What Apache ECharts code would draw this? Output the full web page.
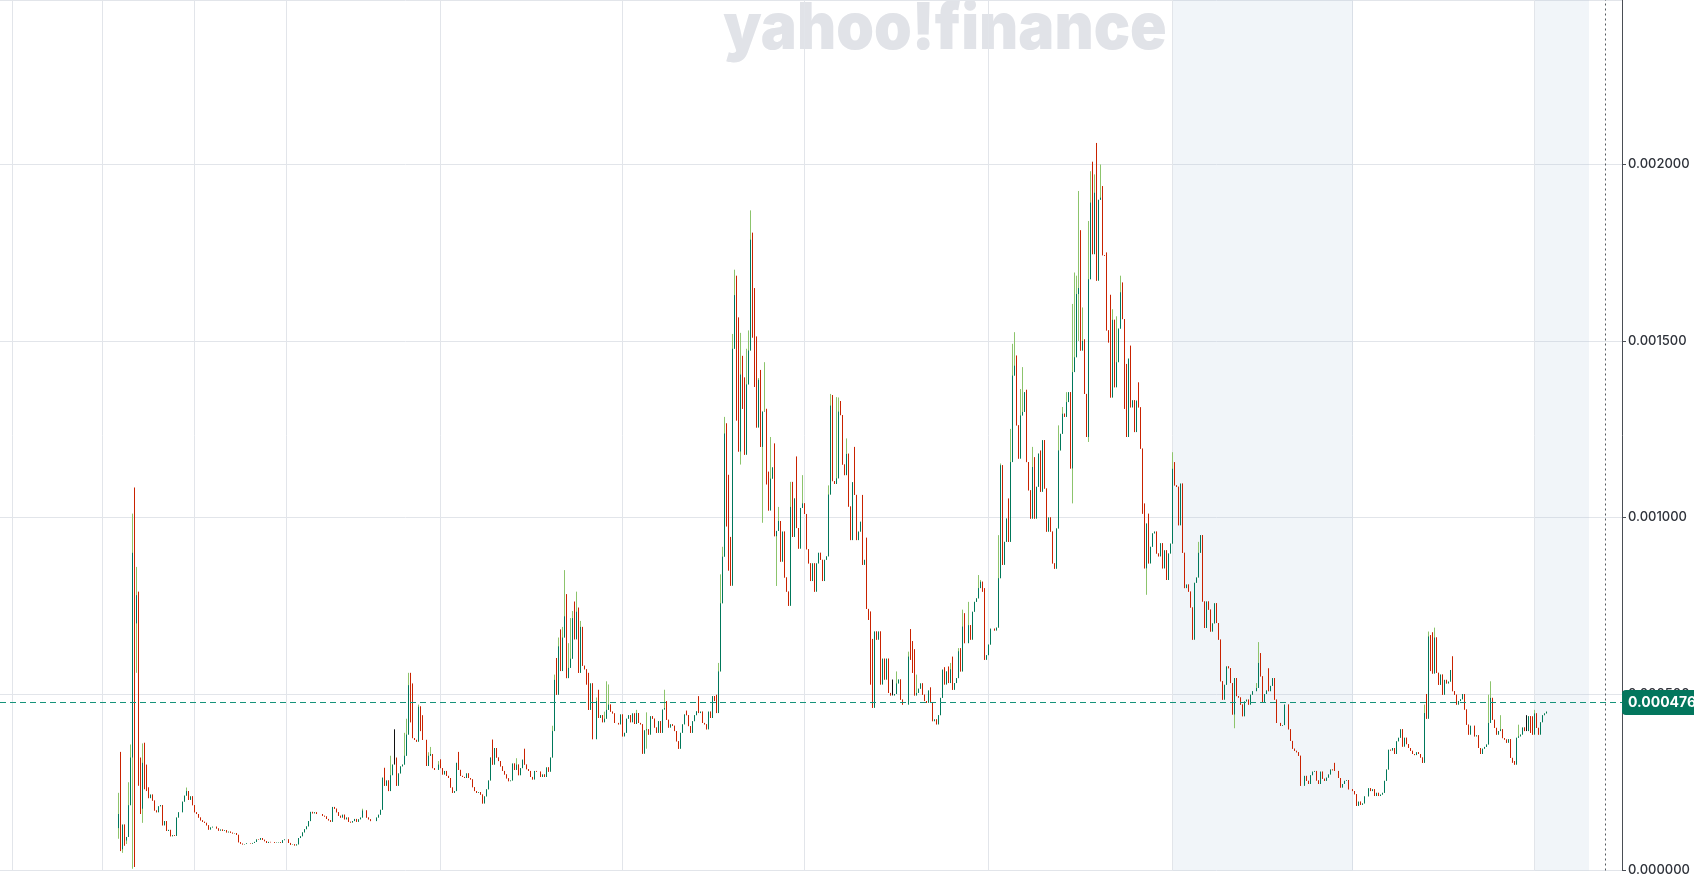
<!DOCTYPE html>
<html>
<head>
<meta charset="utf-8">
<script src="https://cdn.jsdelivr.net/npm/echarts@6/dist/echarts.min.js"></script>
<style>
html,body{margin:0;padding:0;background:#ffffff;}
#chart{width:1694px;height:877px;}
</style>
</head>
<body>
<div id="chart"></div>
<script>
// ---------- DATA (prices in millionths: 476 => 0.000476) ----------
const firstOpen = 120;
// daily closes; each candle opens at the previous close
const closes = [
160,60,130,85,95,185,320,900,700,780,
300,175,305,250,235,205,215,198,170,165,
182,185,128,140,112,115,97,100,98,150,
165,165,195,212,225,200,210,185,165,160,
150,142,138,135,128,116,122,124,124,119,
113,116,112,114,108,110,107,105,106,101,
80,76,74,75,77,77,76,78,81,88,
87,92,87,83,78,81,80,80,78,79,
80,78,86,88,88,78,73,74,71,74,
92,97,108,117,125,140,166,162,165,160,
160,160,155,153,146,142,138,180,175,165,
155,150,158,145,150,138,136,140,146,138,
145,150,170,170,150,145,140,140,140,150,
158,172,263,240,255,225,270,300,300,240,
275,295,300,325,385,525,420,375,370,365,
464,395,370,370,296,325,330,290,285,285,
300,290,272,282,268,262,235,220,225,305,
285,268,265,262,275,262,258,236,225,220,
222,215,190,210,230,255,320,300,347,320,
310,295,282,272,261,253,255,303,285,300,
270,290,314,300,287,282,265,258,282,280,
280,265,272,265,292,280,320,395,540,498,
635,565,660,720,545,574,600,715,655,733,
560,690,580,570,527,455,530,372,372,480,
432,440,420,430,455,470,450,445,418,418,
414,442,380,390,430,440,420,445,415,446,
418,414,331,397,400,385,437,430,405,390,
423,390,456,460,427,405,414,410,395,366,
345,390,414,442,440,409,390,423,440,451,
446,450,418,414,400,450,432,494,480,446,
564,757,889,1238,975,850,807,1478,1630,1275,
1187,1405,1308,1178,1377,1473,1787,1510,1370,1255,
1390,1200,1300,1301,1094,1020,1110,1142,947,962,
990,875,960,830,790,750,1030,945,1054,970,
912,1027,1040,1010,910,870,820,870,790,870,
900,880,820,880,890,1065,1317,1103,1095,1111,
1300,1290,1150,1120,1180,1031,936,1100,1064,936,
960,988,866,880,741,710,527,461,677,654,
677,527,600,541,600,503,496,496,500,530,
541,484,470,470,470,606,597,560,496,503,
515,530,498,480,475,510,475,423,428,414,
440,489,569,527,564,531,570,512,531,545,
621,564,691,644,644,695,654,733,761,771,
800,818,790,597,610,640,685,685,680,688,
828,1148,866,931,997,931,1157,1402,1430,1261,
1167,1289,1299,1355,1157,1077,997,1143,997,1087,
1181,1073,1219,1082,960,1000,960,870,855,969,
1190,1237,1294,1285,1327,1355,1139,1412,1454,1633,
1650,1473,1500,1350,1228,1675,1892,1746,1920,1671,
1900,1906,1743,1741,1530,1496,1340,1560,1369,1440,
1535,1638,1562,1308,1228,1450,1312,1332,1242,1331,
1312,1195,1011,856,983,870,917,955,960,898,
890,927,856,907,823,898,926,1138,1091,1087,
978,1096,900,800,810,790,745,654,815,830,
900,950,762,687,762,739,677,700,757,701,
654,536,484,526,578,573,531,442,545,494,
490,470,437,479,484,470,498,508,508,517,
588,550,475,500,510,508,523,545,484,418,
418,410,412,470,470,400,367,345,339,335,
325,240,240,268,254,245,270,280,282,255,
245,280,260,254,263,272,286,284,282,282,
262,235,245,254,256,230,230,225,216,183,
195,186,190,210,210,233,225,230,211,220,
211,215,220,254,286,342,340,347,330,366,
376,400,351,376,358,347,339,330,327,335,
330,320,305,446,430,663,565,558,660,560,
526,555,498,540,530,535,568,508,498,470,
480,485,500,456,413,385,410,410,380,383,
347,330,345,350,357,418,489,427,404,385,
395,400,375,371,362,372,319,310,300,376,
380,385,405,395,395,437,390,385,445,404,
385,420,440,445,450
];
// visible upper wicks: [candle index, high]
const highNotes = [
[0,220],[1,336],[5,250],[6,357],[7,1011],[8,1085],[9,860],[10,790],[11,320],[12,360],[13,362],[14,300],[34,235],
[122,175],[133,291],[136,325],[138,400],[139,320],[143,390],[144,430],[145,560],[146,560],[147,530],[150,470],
[151,465],[152,440],[155,335],[156,350],[160,310],[161,315],[170,336],[187,371],[199,318],[203,345],[217,410],
[218,555],[219,602],[220,660],[221,683],[222,690],[223,851],[224,783],[225,644],[226,715],[227,735],[228,762],
[229,790],[230,745],[231,707],[232,677],[235,560],[237,432],[239,490],[240,512],[243,450],[244,536],[245,527],
[259,455],[264,448],[273,512],[274,480],[284,453],[290,494],[298,490],[299,498],[300,588],[301,839],[302,917],
[303,1285],[304,1267],[305,1121],[306,945],[307,1520],[308,1702],[309,1685],[310,1567],[311,1523],[312,1458],
[313,1397],[314,1478],[315,1530],[316,1870],[317,1807],[318,1650],[319,1513],[320,1395],[321,1418],[323,1440],
[324,1308],[325,1130],[326,1228],[328,1210],[330,1030],[336,1101],[337,1101],[339,1173],[342,1120],[355,1091],
[356,1350],[357,1347],[359,1341],[360,1340],[361,1330],[362,1275],[364,1224],[365,1181],[368,1200],[372,1064],
[374,943],[376,734],[377,656],[379,677],[381,654],[387,541],[389,564],[395,620],[396,684],[397,650],[398,627],
[399,555],[406,519],[413,576],[415,578],[416,588],[417,606],[420,630],[421,630],[422,739],[423,729],[425,761],
[430,837],[431,823],[433,800],[440,950],[441,1153],[442,1063],[445,1054],[446,1251],[447,1492],[448,1525],
[449,1459],[451,1364],[452,1426],[454,1362],[457,1200],[458,1171],[461,1190],[463,1200],[470,1261],[472,1313],
[474,1355],[476,1294],[477,1605],[478,1694],[479,1685],[480,1925],[481,1814],[482,1595],[483,1505],[485,1840],
[486,1981],[487,2008],[488,1972],[489,2061],[491,2000],[492,1939],[494,1751],[496,1631],[497,1590],[498,1558],
[499,1570],[501,1685],[502,1666],[504,1435],[506,1487],[510,1383],[513,1040],[515,1011],[527,1185],[528,1157],
[540,931],[542,950],[569,531],[570,647],[571,616],[575,573],[608,305],[653,470],[654,500],[655,677],[656,667],
[657,675],[658,688],[659,654],[667,607],[685,498],[686,536],[691,440],[700,413],[704,440],[707,437],[708,455]
];
// visible lower wicks: [candle index, low]
const lowNotes = [
[0,90],[1,55],[2,50],[3,70],[4,75],[7,5],[8,10],[9,560],[10,240],[11,160],[12,135],[13,230],[14,225],
[264,345],[311,1150],[322,985],[329,806],[477,1040],[480,1500],[485,1214],[514,781],[558,403],[653,305],[697,305]
];
const lastPrice = 476;
const yTickLabels = ['0.000000','0.000500','0.001000','0.001500','0.002000'];

// ---------- time slots (one per day) ----------
const totalSlots = 811;         // days spanned by the x axis
const leadSlots = 59;           // empty days before the first candle
const gridSlots = [6,51,97,143,220,311,402,494,586,676,767];
const shadeRanges = [[586,676],[767,794]];
const nowSlot = 802;

// ---------- build series ----------
const S = 1e-6;
const categories = Array.from({length: totalSlots}, (_, k) => String(k));
const opens = closes.map((c, i) => i === 0 ? firstOpen : closes[i - 1]);
const highs = closes.map((c, i) => Math.max(c, opens[i]));
const lows = closes.map((c, i) => Math.min(c, opens[i]));
highNotes.forEach(([i, v]) => { highs[i] = Math.max(highs[i], v); });
lowNotes.forEach(([i, v]) => { lows[i] = Math.min(lows[i], v); });

const wickData = closes.map((c, i) => [i + leadSlots, opens[i] * S, c * S, lows[i] * S, highs[i] * S]);
const bodyData = closes.map((c, i) => [i + leadSlots, opens[i] * S, c * S, Math.min(c, opens[i]) * S, Math.max(c, opens[i]) * S]);

const UP_BODY = '#00785b', UP_WICK = '#8cc46c', DOWN = '#c92200', GRID = '#e2e5ea';

const chart = echarts.init(document.getElementById('chart'), null, {renderer: 'canvas'});
chart.setOption({
  animation: false,
  backgroundColor: '#ffffff',
  grid: {left: 0, right: 72, top: 0, bottom: 4, containLabel: false},
  graphic: [{
    type: 'text', x: 945, y: -3, z: 0, silent: true, scaleX: 0.93, originX: 0, originY: 0,
    style: {
      text: 'yahoo!finance', fill: '#e1e3e8',
      font: '900 65px Inter, "Open Sans", sans-serif',
      textAlign: 'center', textVerticalAlign: 'top'
    }
  }],
  xAxis: {
    type: 'category', data: categories, boundaryGap: true,
    axisLine: {show: false}, axisTick: {show: false}, axisLabel: {show: false},
    splitLine: {show: true, interval: (idx) => gridSlots.includes(idx), lineStyle: {color: GRID, width: 1}}
  },
  yAxis: {
    type: 'value', position: 'right', min: 0, max: 0.002466, interval: 0.0005, scale: false,
    axisLine: {show: true, lineStyle: {color: '#4a4e55', width: 1}},
    axisTick: {show: true, length: 4, lineStyle: {color: '#4a4e55'}},
    axisLabel: {
      showMaxLabel: false, margin: 6, color: '#2e323a', fontSize: 13, fontWeight: 500, fontFamily: 'Inter',
      formatter: (v) => { const k = Math.round(v / 0.0005); return yTickLabels[k] !== undefined ? yTickLabels[k] : ''; }
    },
    splitLine: {show: true, lineStyle: {color: GRID, width: 1}}
  },
  series: [
    {
      type: 'line', data: [], z: 1, silent: true,
      markArea: {
        silent: true,
        itemStyle: {color: 'rgba(180,200,222,0.18)'},
        data: shadeRanges.map(r => [{xAxis: r[0]}, {xAxis: r[1]}])
      },
      markLine: {
        silent: true, symbol: ['none', 'none'], animation: false, precision: 6,
        data: [
          {
            yAxis: lastPrice * S,
            lineStyle: {color: '#15937a', type: [6, 4], width: 1},
            label: {
              show: true, position: 'end', distance: 0,
              formatter: (lastPrice * S).toFixed(6),
              backgroundColor: '#03765d', color: '#ffffff', fontWeight: 'bold', fontSize: 14,
              fontFamily: 'Inter', padding: [6, 6, 5, 6], borderRadius: 4
            }
          },
          {
            xAxis: nowSlot,
            lineStyle: {color: '#555a60', type: [2, 3], width: 1},
            label: {show: false}
          }
        ]
      }
    },
    {
      name: 'range', type: 'candlestick', large: false, silent: true, z: 2,
      barWidth: 0.01,
      encode: {x: 0, y: [1, 2, 3, 4]},
      itemStyle: {color: UP_WICK, color0: DOWN, borderColor: UP_WICK, borderColor0: DOWN, borderColorDoji: '#111', borderWidth: 1},
      data: wickData
    },
    {
      name: 'body', type: 'candlestick', large: false, silent: true, z: 3,
      barWidth: 0.01,
      encode: {x: 0, y: [1, 2, 3, 4]},
      itemStyle: {color: UP_BODY, color0: DOWN, borderColor: UP_BODY, borderColor0: DOWN, borderColorDoji: '#111', borderWidth: 1},
      data: bodyData
    }
  ]
});
</script>
</body>
</html>
